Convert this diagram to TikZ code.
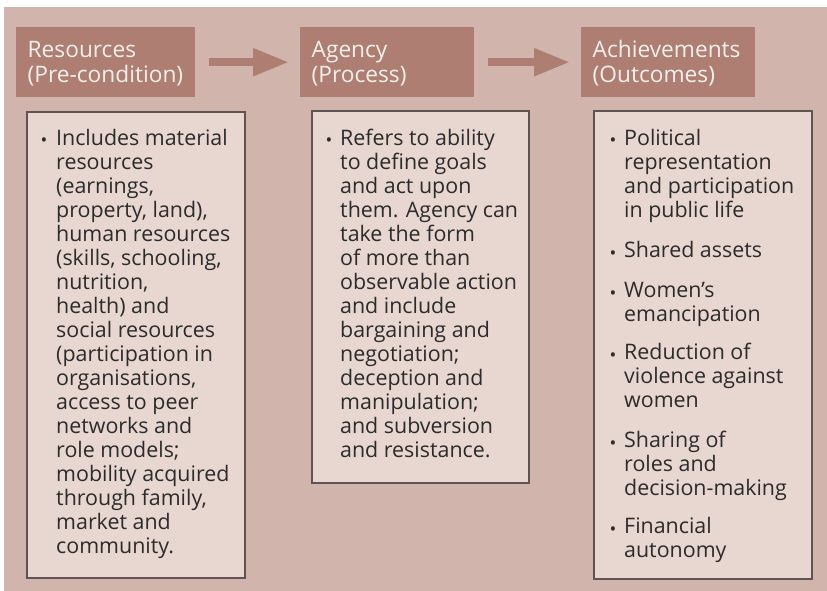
\documentclass[tikz,border=0pt]{standalone}
\usepackage{fontspec}
\setmainfont{Open Sans}
\usetikzlibrary{arrows.meta}
\definecolor{bgc}{HTML}{D1B5AC}
\definecolor{hdrc}{HTML}{AE7E72}
\definecolor{boxc}{HTML}{E8D7D1}
\definecolor{edgec}{HTML}{5E5454}
\definecolor{txtc}{HTML}{2B2B2B}
\definecolor{htxt}{HTML}{F8F0EC}
\tikzset{
  hdrbox/.style={fill=hdrc, draw=none, anchor=north west, minimum height=70bp,
    inner xsep=11.5bp, inner ysep=0pt, align=left, text=htxt,
    font=\fontsize{22.7bp}{25bp}\selectfont},
  contentbox/.style={fill=boxc, draw=edgec, line width=1.3bp},
  bodytext/.style={anchor=north west, inner sep=0pt, align=left, text=txtc,
    font=\fontsize{21.4bp}{24bp}\selectfont},
  bulletmark/.style={anchor=base, inner sep=0pt, text=txtc,
    font=\fontsize{18bp}{24bp}\selectfont},
  flowarrow/.style={draw=hdrc, line width=8bp,
    -{Triangle[length=36bp,width=26bp]}, shorten <=14bp, shorten >=11bp}
}
\newcommand{\hstrut}{\rule{0pt}{20bp}}
\begin{document}
\begin{tikzpicture}[x=1bp,y=-1bp]
\useasboundingbox (0,0) rectangle (827,591);
\fill[bgc] (4,7) rectangle (827,591);

% header boxes
\node[hdrbox, text width=156bp] (h1) at (16,27) {\hstrut Resources\\(Pre-condition)};
\node[hdrbox, text width=151bp] (h2) at (300,27) {\hstrut Agency\\(Process)};
\node[hdrbox, text width=151bp] (h3) at (581,27) {\hstrut Achievements\\(Outcomes)};

% arrows
\draw[flowarrow] (h1.east) -- (h2.west);
\draw[flowarrow] (h2.east) -- (h3.west);

% content boxes
\draw[contentbox] (27,112) rectangle (245,578);
\draw[contentbox] (312,111) rectangle (529,483);
\draw[contentbox] (594,111) rectangle (812,579);

% Resources text
\node[bulletmark] (b1) at (44,147) {•};
\node[bodytext] (t1) at (56,128.2) {\strut Includes material\\resources\\(earnings,\\property, land),\\human resources\\(skills, schooling,\\nutrition,\\health) and\\social resources\\(participation in\\organisations,\\access to peer\\networks and\\role models;\\mobility acquired\\through family,\\market and\\community.};

% Agency text
\node[bulletmark] (b2) at (329,147) {•};
\node[bodytext] (t2) at (340,128.2) {\strut Refers to ability\\to define goals\\and act upon\\them. Agency can\\take the form\\of more than\\observable action\\and include\\bargaining and\\negotiation;\\deception and\\manipulation;\\and subversion\\and resistance.};

% Achievements text
\node[bulletmark] (b3a) at (613,147) {•};
\node[bodytext] (t3a) at (624,128.2) {\strut Political\\representation\\and participation\\in public life};
\node[bulletmark] (b3b) at (613,259) {•};
\node[bodytext] (t3b) at (624,240.2) {\strut Shared assets};
\node[bulletmark] (b3c) at (613,299) {•};
\node[bodytext] (t3c) at (624,280.2) {\strut Women’s\\emancipation};
\node[bulletmark] (b3d) at (613,361) {•};
\node[bodytext] (t3d) at (624,342.2) {\strut Reduction of\\violence against\\women};
\node[bulletmark] (b3e) at (613,449) {•};
\node[bodytext] (t3e) at (624,430.2) {\strut Sharing of\\roles and\\decision-making};
\node[bulletmark] (b3f) at (613,535) {•};
\node[bodytext] (t3f) at (624,516.2) {\strut Financial\\autonomy};
\end{tikzpicture}
\end{document}
